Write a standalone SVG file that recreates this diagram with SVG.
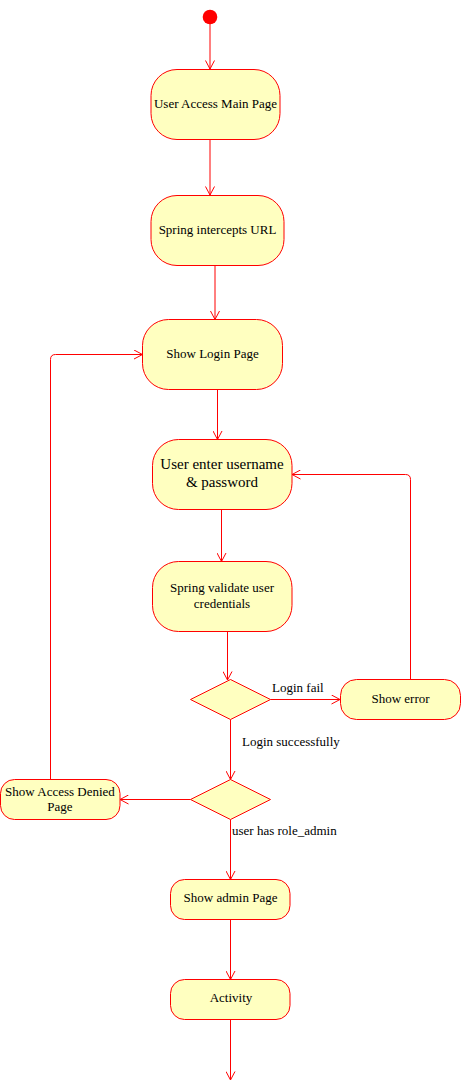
<svg xmlns="http://www.w3.org/2000/svg" width="461" height="1090" viewBox="0 0 461 1090">
<defs>
<style>
.n{fill:#ffffc0;stroke:#ff0000;stroke-width:1}
.c{fill:none;stroke:#ff0000;stroke-width:1}
text{font-family:"Liberation Serif","Times New Roman",serif;font-size:13px;fill:#000}
.m{text-anchor:middle}
.big{font-size:15px}
</style>
<marker id="a" markerWidth="10" markerHeight="10" refX="9.5" refY="5" orient="auto" markerUnits="userSpaceOnUse">
<path d="M1,0.5 L9.5,5 L1,9.5" fill="none" stroke="#ff0000" stroke-width="1"/>
</marker>
</defs>
<rect width="461" height="1090" fill="#ffffff"/>
<g id="connectors">
<line class="c" x1="210" y1="24" x2="210" y2="69" marker-end="url(#a)"/>
<line class="c" x1="210" y1="139" x2="210" y2="195" marker-end="url(#a)"/>
<line class="c" x1="215" y1="265" x2="215" y2="319.5" marker-end="url(#a)"/>
<line class="c" x1="217.5" y1="389.5" x2="217.5" y2="439.5" marker-end="url(#a)"/>
<line class="c" x1="221.5" y1="509.5" x2="221.5" y2="561.5" marker-end="url(#a)"/>
<line class="c" x1="227.5" y1="631.5" x2="227.5" y2="680" marker-end="url(#a)"/>
<line class="c" x1="270.5" y1="699.5" x2="340" y2="699.5" marker-end="url(#a)"/>
<line class="c" x1="230.5" y1="719.5" x2="230.5" y2="779.5" marker-end="url(#a)"/>
<line class="c" x1="190.5" y1="799.5" x2="120" y2="799.5" marker-end="url(#a)"/>
<line class="c" x1="230.5" y1="819.5" x2="230.5" y2="879.5" marker-end="url(#a)"/>
<line class="c" x1="230.5" y1="919.5" x2="230.5" y2="979.5" marker-end="url(#a)"/>
<line class="c" x1="230.5" y1="1019.5" x2="230.5" y2="1080" marker-end="url(#a)"/>
<path class="c" d="M410.5,679.5 L410.5,479.5 Q410.5,474.5 405.5,474.5 L292,474.5" marker-end="url(#a)"/>
<path class="c" d="M50.5,779.5 L50.5,359.5 Q50.5,354.5 55.5,354.5 L142.5,354.5" marker-end="url(#a)"/>
<text x="272" y="692">Login fail</text>
<text x="242" y="746">Login successfully</text>
<text x="232" y="835">user has role_admin</text>
</g>
<g id="start"><circle cx="210" cy="17" r="7.3" fill="#ff0000"/></g>
<g id="user-access-main-page">
<rect class="n" x="151" y="69.5" width="129" height="70" rx="26"/>
<text class="m" x="215.5" y="107.5">User Access Main Page</text>
</g>
<g id="spring-intercepts-url">
<rect class="n" x="151" y="195.5" width="133" height="70" rx="26"/>
<text class="m" x="217.5" y="233.5">Spring intercepts URL</text>
</g>
<g id="show-login-page">
<rect class="n" x="142.5" y="319.5" width="140" height="70" rx="26"/>
<text class="m" x="212.5" y="357.5">Show Login Page</text>
</g>
<g id="user-enter">
<rect class="n" x="152.5" y="439.5" width="139.5" height="70" rx="26"/>
<text class="m big" x="222" y="469">User enter username</text>
<text class="m big" x="222" y="487">&amp; password</text>
</g>
<g id="spring-validate">
<rect class="n" x="152.5" y="561.5" width="139.5" height="70" rx="26"/>
<text class="m" x="222" y="591.5">Spring validate user</text>
<text class="m" x="222" y="607.5">credentials</text>
</g>
<g id="decision-login">
<polygon class="n" points="230.5,679.5 270.5,699.5 230.5,719.5 190.5,699.5"/>
</g>
<g id="show-error">
<rect class="n" x="340.5" y="679.5" width="120" height="40" rx="16"/>
<text class="m" x="400.5" y="702.5">Show error</text>
</g>
<g id="decision-role">
<polygon class="n" points="230.5,779.5 270.5,799.5 230.5,819.5 190.5,799.5"/>
</g>
<g id="show-access-denied">
<rect class="n" x="0.5" y="779.5" width="119.5" height="40" rx="14"/>
<text class="m" x="60" y="795.5">Show Access Denied</text>
<text class="m" x="60" y="811">Page</text>
</g>
<g id="show-admin-page">
<rect class="n" x="170.5" y="879.5" width="119.5" height="40" rx="14"/>
<text class="m" x="230.5" y="902">Show admin Page</text>
</g>
<g id="activity">
<rect class="n" x="170.5" y="979.5" width="119.5" height="40" rx="14"/>
<text class="m" x="231" y="1002">Activity</text>
</g>
</svg>
